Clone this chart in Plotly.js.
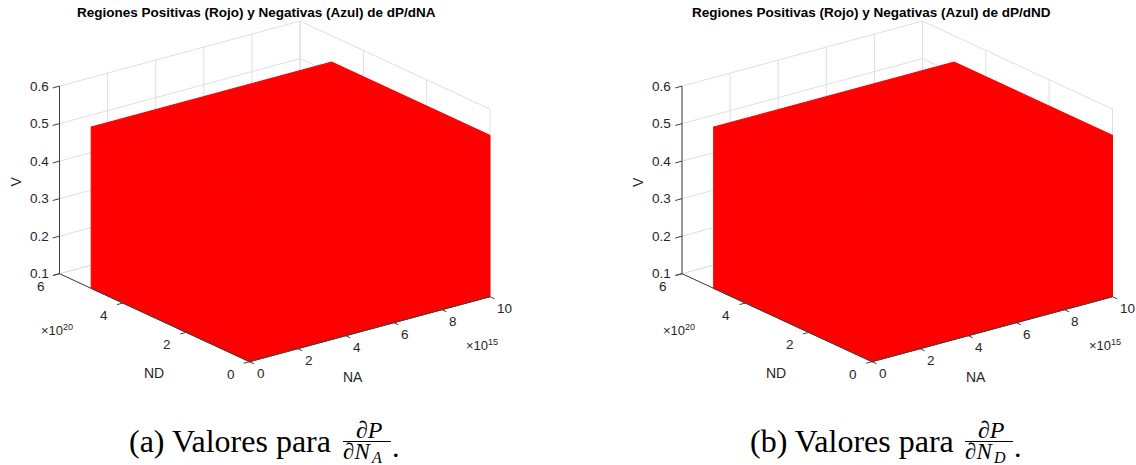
<!DOCTYPE html>
<html>
<head>
<meta charset="utf-8">
<script src="https://cdn.plot.ly/plotly-3.0.1.min.js"></script>
<style>
  html, body { margin: 0; padding: 0; background: #ffffff; }
  #chart { width: 1136px; height: 465px; }
</style>
</head>
<body>
<div id="chart"></div>
<script>
// ================= data =================
// region in which the derivative was evaluated; it is positive everywhere (red)
var boxNA = [0, 1e16];        // NA  from .. to
var boxND = [0, 5e20];        // ND  from .. to
var boxV  = [0.1, 0.53];      // V   from .. to
var signs = [1, 1];           // sign of dP/dNA and dP/dND over the region (+ -> red, - -> blue)

// axis limits and ticks
var naRange = [0, 1e16];
var ndRange = [0, 6e20];
var vRange  = [0.1, 0.6];
var naTicks = [0, 2e15, 4e15, 6e15, 8e15, 1e16];
var naTickText = ['0', '2', '4', '6', '8', '10'];
var ndTicks = [0, 2e20, 4e20, 6e20];
var ndTickText = ['0', '2', '4', '6'];
var vTicks = [0.1, 0.2, 0.3, 0.4, 0.5, 0.6];
var vTickText = ['0.1', '0.2', '0.3', '0.4', '0.5', '0.6'];
var naExponent = '\u00d710<sup>15</sup>';
var ndExponent = '\u00d710<sup>20</sup>';

var titles = ['Regiones Positivas (Rojo) y Negativas (Azul) de dP/dNA',
              'Regiones Positivas (Rojo) y Negativas (Azul) de dP/dND'];
var captionLead = ['(a) Valores para', '(b) Valores para'];
var captionSub = ['A', 'D'];

// ================= orthographic camera (MATLAB-like view) =================
// screen vectors (px) of the full NA, ND and V axis extents, and panel origins
var VIEW = { ex: [240.5, -65], ey: [-190, -88], ez: [0, -187.6] };
var ORIGINS = [[249.5, 361.7], [872, 361.7]];

function proj(p, na, nd, v) {
  var xn = (na - naRange[0]) / (naRange[1] - naRange[0]);
  var yn = (nd - ndRange[0]) / (ndRange[1] - ndRange[0]);
  var zn = (v - vRange[0]) / (vRange[1] - vRange[0]);
  var o = ORIGINS[p];
  return [o[0] + VIEW.ex[0] * xn + VIEW.ey[0] * yn + VIEW.ez[0] * zn,
          o[1] + VIEW.ex[1] * xn + VIEW.ey[1] * yn + VIEW.ez[1] * zn];
}
function unit(v) { var l = Math.hypot(v[0], v[1]); return [v[0] / l, v[1] / l]; }
var outX = unit([-VIEW.ex[0], -VIEW.ex[1]]);   // direction away from the box along -NA
var outY = unit([-VIEW.ey[0], -VIEW.ey[1]]);   // direction away from the box along -ND

var data = [];
var annotations = [];
var sans = 'Liberation Sans, Arial, Helvetica, sans-serif';
var serif = 'Liberation Serif, Times New Roman, serif';
var txtCol = '#262626';

function segs(list) {   // list of [[x,y],[x,y]] -> x,y arrays with gaps
  var xs = [], ys = [];
  list.forEach(function (s) {
    s.forEach(function (pt) { xs.push(pt[0]); ys.push(pt[1]); });
    xs.push(null); ys.push(null);
  });
  return { x: xs, y: ys };
}

for (var p = 0; p < 2; p++) {
  // ---------- grid on the back walls and floor ----------
  var g = [];
  naTicks.forEach(function (t) {
    g.push([proj(p, t, ndRange[1], vRange[0]), proj(p, t, ndRange[1], vRange[1])]); // back wall ND=max
    g.push([proj(p, t, ndRange[0], vRange[0]), proj(p, t, ndRange[1], vRange[0])]); // floor
  });
  ndTicks.forEach(function (t) {
    g.push([proj(p, naRange[1], t, vRange[0]), proj(p, naRange[1], t, vRange[1])]); // back wall NA=max
    g.push([proj(p, naRange[0], t, vRange[0]), proj(p, naRange[1], t, vRange[0])]); // floor
  });
  vTicks.forEach(function (t) {
    g.push([proj(p, naRange[0], ndRange[1], t), proj(p, naRange[1], ndRange[1], t)]);
    g.push([proj(p, naRange[1], ndRange[0], t), proj(p, naRange[1], ndRange[1], t)]);
  });
  var gs = segs(g);
  data.push({ type: 'scatter', mode: 'lines', x: gs.x, y: gs.y, hoverinfo: 'skip',
    line: { color: '#dfdfdf', width: 1 } });

  // ---------- region (box) : visible faces ----------
  var col = signs[p] > 0 ? 'rgb(255,0,0)' : 'rgb(0,0,255)';
  var faces = [
    [[boxNA[0], boxND[0], boxV[0]], [boxNA[1], boxND[0], boxV[0]], [boxNA[1], boxND[0], boxV[1]], [boxNA[0], boxND[0], boxV[1]]],
    [[boxNA[0], boxND[0], boxV[0]], [boxNA[0], boxND[1], boxV[0]], [boxNA[0], boxND[1], boxV[1]], [boxNA[0], boxND[0], boxV[1]]],
    [[boxNA[0], boxND[0], boxV[1]], [boxNA[1], boxND[0], boxV[1]], [boxNA[1], boxND[1], boxV[1]], [boxNA[0], boxND[1], boxV[1]]]
  ];
  faces.forEach(function (f) {
    var pts = f.map(function (c) { return proj(p, c[0], c[1], c[2]); });
    pts.push(pts[0]);
    data.push({ type: 'scatter', mode: 'lines', fill: 'toself', fillcolor: col,
      x: pts.map(function (q) { return q[0]; }), y: pts.map(function (q) { return q[1]; }),
      line: { color: col, width: 1 }, hoverinfo: 'skip' });
  });

  // ---------- axis lines and ticks ----------
  var a = [];
  a.push([proj(p, naRange[0], ndRange[0], vRange[0]), proj(p, naRange[1], ndRange[0], vRange[0])]);
  a.push([proj(p, naRange[0], ndRange[0], vRange[0]), proj(p, naRange[0], ndRange[1], vRange[0])]);
  a.push([proj(p, naRange[0], ndRange[1], vRange[0]), proj(p, naRange[0], ndRange[1], vRange[1])]);
  naTicks.forEach(function (t) {
    var q = proj(p, t, ndRange[0], vRange[0]);
    a.push([q, [q[0] + outY[0] * 5, q[1] + outY[1] * 5]]);
  });
  ndTicks.forEach(function (t) {
    var q = proj(p, naRange[0], t, vRange[0]);
    a.push([q, [q[0] + outX[0] * 6, q[1] + outX[1] * 6]]);
  });
  vTicks.forEach(function (t) {
    var q = proj(p, naRange[0], ndRange[1], t);
    a.push([q, [q[0] + outX[0] * 7, q[1] + outX[1] * 7]]);
  });
  var as = segs(a);
  data.push({ type: 'scatter', mode: 'lines', x: as.x, y: as.y, hoverinfo: 'skip',
    line: { color: '#404040', width: 1 } });

  // ---------- tick labels ----------
  function lab(q, text, dx, dy, xa, size, extra) {
    annotations.push(Object.assign({ xref: 'x', yref: 'y', x: q[0] + dx, y: q[1] + dy,
      text: text, showarrow: false, xanchor: xa, yanchor: 'middle',
      font: { family: sans, size: size || 13.5, color: txtCol } }, extra || {}));
  }
  naTicks.forEach(function (t, i) { lab(proj(p, t, ndRange[0], vRange[0]), naTickText[i], 5, 12, 'left'); });
  ndTicks.forEach(function (t, i) { lab(proj(p, naRange[0], t, vRange[0]), ndTickText[i], -13, 12.5, 'right'); });
  vTicks.forEach(function (t, i) { lab(proj(p, naRange[0], ndRange[1], t), vTickText[i], -9, 0, 'right'); });

  // exponents
  lab(proj(p, naRange[1], ndRange[0], vRange[0]), naExponent, -26, 48, 'left', 13);
  lab(proj(p, naRange[0], ndRange[1], vRange[0]), ndExponent, -21, 56, 'left', 13);

  // axis titles
  var naMid = (naRange[0] + naRange[1]) / 2, ndMid = (ndRange[0] + ndRange[1]) / 2, vMid = (vRange[0] + vRange[1]) / 2;
  lab(proj(p, naMid, ndRange[0], vRange[0]), 'NA', -16.5, 47.5, 'center', 14);
  lab(proj(p, naRange[0], ndMid, vRange[0]), 'ND', -1, 55, 'center', 14);
  lab(proj(p, naRange[0], ndRange[1], vMid), 'V', -44, 2, 'center', 14, { textangle: -90 });
}

// ---------- titles and captions (page text) ----------
var titleX = [256, 871.5];
var capX = [127, 748];      // left edge of caption
var fracX = [368, 990];     // centre of fraction
for (var p2 = 0; p2 < 2; p2++) {
  annotations.push({ xref: 'paper', yref: 'paper', x: titleX[p2] / 1136, y: 1 - 13 / 465,
    xanchor: 'center', yanchor: 'middle', showarrow: false, text: '<b>' + titles[p2] + '</b>',
    font: { family: sans, size: 13.5, color: '#000000' } });
  annotations.push({ xref: 'paper', yref: 'paper', x: capX[p2] / 1136, y: 1 - 441 / 465,
    xanchor: 'left', yanchor: 'middle', showarrow: false, text: captionLead[p2],
    font: { family: serif, size: 32, color: '#000000' } });
  annotations.push({ xref: 'paper', yref: 'paper', x: (fracX[p2] + 1) / 1136, y: 1 - 430 / 465,
    xanchor: 'center', yanchor: 'middle', showarrow: false, text: '\u2202<i>P</i>',
    font: { family: serif, size: 24, color: '#000000' } });
  annotations.push({ xref: 'paper', yref: 'paper', x: (fracX[p2] + 5) / 1136, y: 1 - 451 / 465,
    xanchor: 'right', yanchor: 'middle', showarrow: false, text: '\u2202<i>N</i>',
    font: { family: serif, size: 23, color: '#000000' } });
  annotations.push({ xref: 'paper', yref: 'paper', x: (fracX[p2] + 1) / 1136, y: 1 - 457 / 465,
    xanchor: 'left', yanchor: 'middle', showarrow: false, text: '<i>' + captionSub[p2] + '</i>',
    font: { family: serif, size: 16, color: '#000000' } });
  annotations.push({ xref: 'paper', yref: 'paper', x: (fracX[p2] + 28) / 1136, y: 1 - 446 / 465,
    xanchor: 'center', yanchor: 'middle', showarrow: false, text: '.',
    font: { family: serif, size: 30, color: '#000000' } });
}
var shapes = [0, 1].map(function (q) {
  return { type: 'line', xref: 'paper', yref: 'paper',
    x0: (fracX[q] - 25) / 1136, x1: (fracX[q] + 23) / 1136,
    y0: 1 - 441.5 / 465, y1: 1 - 441.5 / 465, line: { color: '#000000', width: 1 } };
});

var layout = {
  width: 1136, height: 465,
  margin: { l: 0, r: 0, t: 0, b: 0 },
  paper_bgcolor: '#ffffff', plot_bgcolor: '#ffffff',
  showlegend: false,
  xaxis: { range: [0, 1136], visible: false, fixedrange: true },
  yaxis: { range: [465, 0], visible: false, fixedrange: true },
  annotations: annotations,
  shapes: shapes
};

Plotly.newPlot('chart', data, layout, { staticPlot: true, displayModeBar: false });
</script>
</body>
</html>
